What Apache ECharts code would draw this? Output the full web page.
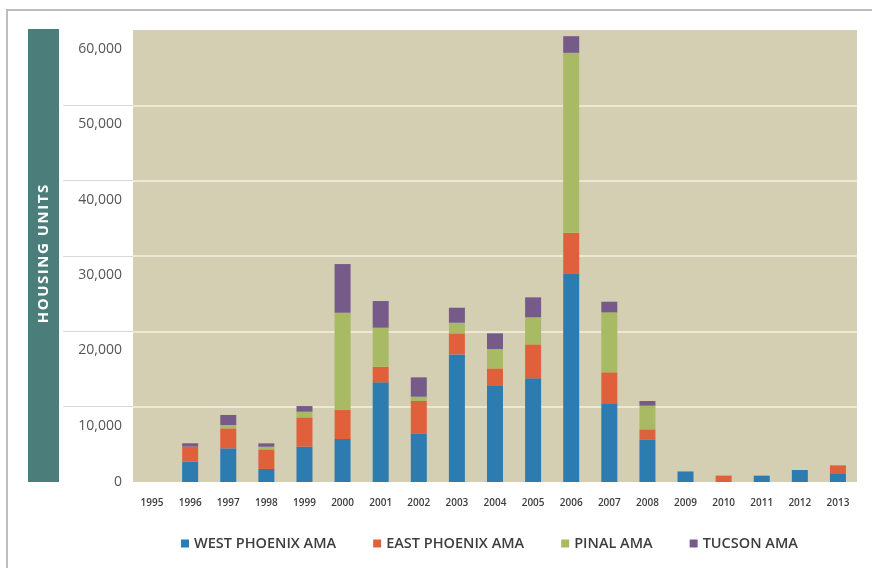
<!DOCTYPE html>
<html><head><meta charset="utf-8">
<script src="https://cdn.jsdelivr.net/npm/echarts@6/dist/echarts.min.js"></script>
<style>html,body{margin:0;padding:0;background:#fff}#c{width:872px;height:568px}</style>
</head><body><div id="c"></div>
<script>
const years = ['1995','1996','1997','1998','1999','2000','2001','2002','2003','2004','2005','2006','2007','2008','2009','2010','2011','2012','2013'];
const westPhoenix = [0,2700,4470,1730,4690,5710,13230,6460,16940,12830,13760,27600,10440,5660,1400,0,840,1590,1060];
const eastPhoenix = [0,2000,2650,2600,3890,3840,2070,4290,2790,2250,4510,5480,4120,1330,0,850,0,0,1150];
const pinal       = [0,0,450,350,750,12920,5180,570,1410,2570,3590,23890,7960,3140,0,0,0,0,0];
const tucson      = [0,440,1330,450,750,6460,3540,2570,1990,2080,2650,2210,1410,620,0,0,0,0,0];
const seriesNames = ['WEST PHOENIX AMA','EAST PHOENIX AMA','PINAL AMA','TUCSON AMA'];
const colors = ['#2c7bb1','#e0603b','#a8ba64','#765a89'];
const yTicks = {min:0, max:60000, interval:10000};
const yTitle = 'HOUSING UNITS';

const chart = echarts.init(document.getElementById('c'));
const mk = (name, data, i) => ({
  name, type:'bar', stack:'t', data, barWidth:16,
  xAxisIndex:0, yAxisIndex:0,
  itemStyle:{color:colors[i]}
});
chart.setOption({
  animation:false,
  color:colors,
  graphic:[
    {type:'rect', shape:{x:7, y:10, width:880, height:570}, style:{fill:'none', stroke:'#bdbdbd', lineWidth:2}, silent:true},
    {type:'rect', shape:{x:28, y:29, width:31, height:453}, style:{fill:'#4b7e7a'}, silent:true},
    {type:'text', x:44, y:254, rotation:Math.PI/2, style:{text:yTitle.split('').join('\u200A'), fill:'#fff', font:'bold 15px "Open Sans"', textAlign:'center', textVerticalAlign:'middle'}, silent:true}
  ],
  grid:[
    {left:133, right:15, top:30, bottom:86, show:true, backgroundColor:'#d4cfb2', borderWidth:0},
    {left:63, width:70, top:30, bottom:86}
  ],
  xAxis:[
    {type:'category', gridIndex:0, data:years, axisLine:{show:false}, axisTick:{show:false},
     axisLabel:{color:'#3d3d3d', fontSize:10, fontFamily:'"Open Sans"', fontWeight:600, margin:16}},
    {type:'category', gridIndex:1, data:[''], show:false}
  ],
  yAxis:[
    {type:'value', gridIndex:0, min:yTicks.min, max:yTicks.max, interval:yTicks.interval,
     axisLine:{show:false}, axisTick:{show:false},
     splitLine:{show:true, showMinLine:false, showMaxLine:false, lineStyle:{color:'#f6f1df', width:1.5}},
     axisLabel:{margin:11, color:'#555', fontSize:14, fontFamily:'"Open Sans"',
       formatter:v => v===0 ? '{z|0}' : '{a|' + v.toLocaleString('en-US') + '}',
       rich:{a:{padding:[38,0,0,0], fontSize:14, color:'#555', fontFamily:'"Open Sans"'}, z:{fontSize:14, color:'#555', fontFamily:'"Open Sans"'}}}},
    {type:'value', gridIndex:1, min:yTicks.min, max:yTicks.max, interval:yTicks.interval,
     axisLine:{show:false}, axisTick:{show:false}, axisLabel:{show:false},
     splitLine:{show:true, showMinLine:false, showMaxLine:false, lineStyle:{color:'#d9d9d9', width:1}}}
  ],
  legend:{
    data:seriesNames, left:176, top:531, icon:'rect', itemWidth:8, itemHeight:8, itemGap:37,
    textStyle:{color:'#3d3d3d', fontSize:14.5, fontWeight:600, fontFamily:'"Open Sans"'}
  },
  series:[
    mk(seriesNames[0], westPhoenix, 0),
    mk(seriesNames[1], eastPhoenix, 1),
    mk(seriesNames[2], pinal, 2),
    mk(seriesNames[3], tucson, 3)
  ]
});
</script></body></html>
